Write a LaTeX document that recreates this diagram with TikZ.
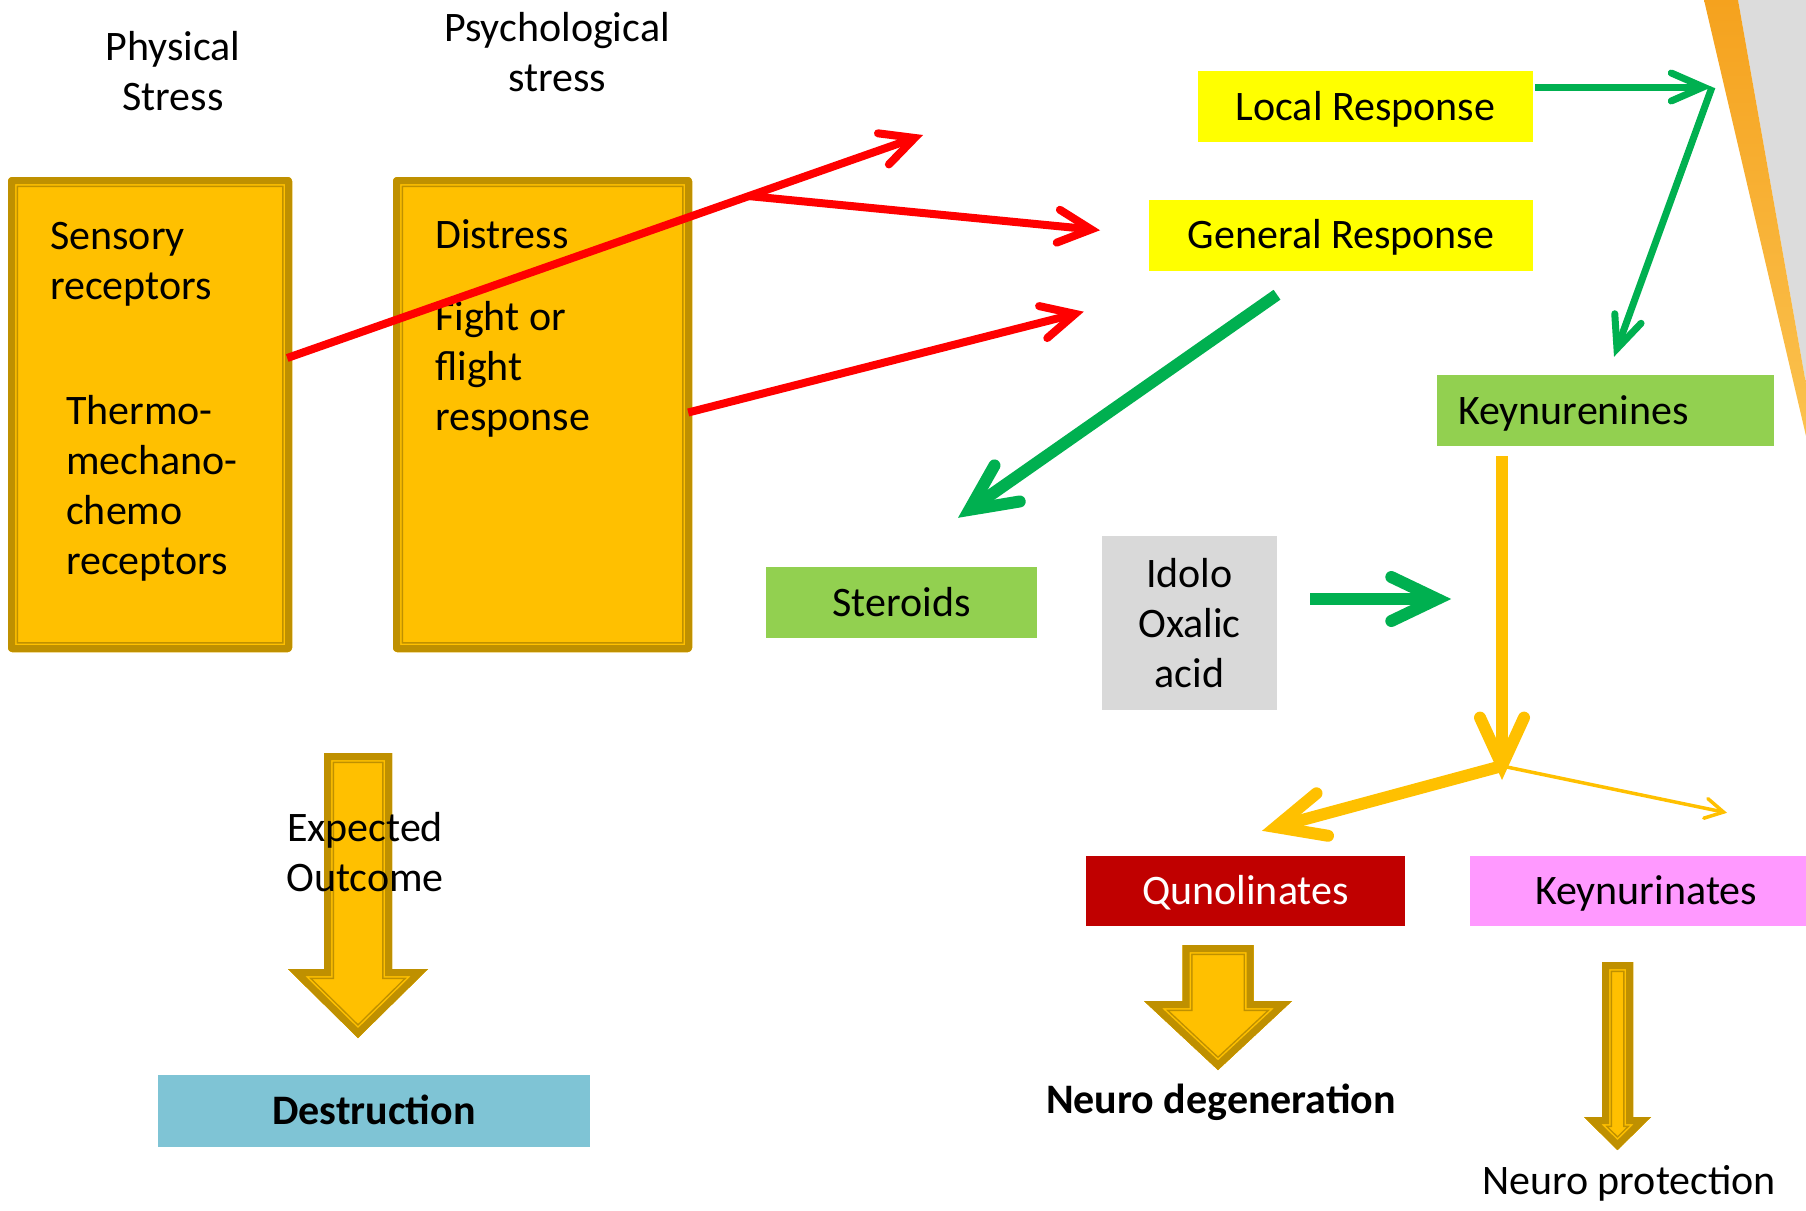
\documentclass[tikz,border=0pt]{standalone}
\usepackage{fontspec}
\setmainfont{Carlito}
\usetikzlibrary{arrows.meta}

\definecolor{goldfill}{HTML}{FFC000}
\definecolor{golddark}{HTML}{BF9000}
\definecolor{stressred}{HTML}{FF0000}
\definecolor{respgreen}{HTML}{00B050}
\definecolor{respyellow}{HTML}{FFFF00}
\definecolor{leafgreen}{HTML}{92D050}
\definecolor{acidgray}{HTML}{D9D9D9}
\definecolor{darkred}{HTML}{C00000}
\definecolor{pinkbox}{HTML}{FF99FF}
\definecolor{tealbox}{HTML}{7FC4D5}
\definecolor{stripetop}{HTML}{F5A21E}
\definecolor{stripebot}{HTML}{FBC24F}
\definecolor{cornergray}{HTML}{DCDCDC}

\tikzset{
  every node/.style={font=\fontsize{42}{50}\selectfont, inner sep=0pt},
  flatbox/.style={rectangle, minimum height=71, text height=34pt, text depth=7pt},
  goldbox/.style={rectangle, rounded corners=4pt, fill=goldfill,
    path picture={
      \foreach \bandw/\bandc in {20/golddark,17/goldfill,14/golddark}
        \draw[\bandc, line width=\bandw pt] (path picture bounding box.south west) rectangle (path picture bounding box.north east);}},
  redline/.style={draw=stressred, line width=8pt, -{Straight Barb[length=33pt, width=33pt, line cap=round, line join=miter]}},
  grnmid/.style={draw=respgreen, line width=7pt, -{Straight Barb[length=32pt, width=28pt, line cap=round, line join=miter]}},
  grnthick/.style={draw=respgreen, line width=12pt, -{Straight Barb[length=46pt, width=44pt, line cap=round, line join=miter]}},
  ylwthick/.style={draw=goldfill, line width=12pt, -{Straight Barb[length=48pt, width=44pt, line cap=round, line join=miter]}},
  ylwthin/.style={draw=goldfill, line width=3.5pt, -{Straight Barb[length=18pt, width=20pt, line cap=round, line join=miter]}}
}

% block arrow: centre x, top y, half shaft, head y, half head, tip y
\newcommand{\goldarrow}[6]{%
  \def\blockpath{(#1-#3,#2) -- (#1+#3,#2) -- (#1+#3,#4) -- (#1+#5,#4) -- (#1,#6) -- (#1-#5,#4) -- (#1-#3,#4) -- cycle}%
  \begin{scope}
    \clip \blockpath;
    \fill[goldfill] \blockpath;
    \foreach \bandw/\bandc in {20/golddark,17/goldfill,14/golddark}
      \draw[\bandc, line width=\bandw pt, line join=miter] \blockpath;
  \end{scope}}

\begin{document}
\begin{tikzpicture}[x=1pt, y=-1pt]
\useasboundingbox (0,0) rectangle (1806,1210);

% corner decoration
\fill[cornergray] (1738,0) -- (1806,0) -- (1806,384) -- cycle;
\shade[top color=stripetop, bottom color=stripebot] (1704,0) -- (1738,0) -- (1806,384) -- (1806,436) -- cycle;

% stress sources (base = last line)
\node[align=center, anchor=base] (phys) at (173,110) {Physical\\Stress};
\node[align=center, anchor=base] (psych) at (557,91) {Psychological\\stress};

\node[goldbox, minimum width=284, minimum height=475] (physbox) at (150,414.5) {};
\node[goldbox, minimum width=299, minimum height=475] (psybox) at (542.5,414.5) {};
\node[align=left, anchor=base west] (sensory) at (50,299) {Sensory\\receptors};
\node[align=left, anchor=base west] (thermo) at (66,574) {Thermo-\\mechano-\\chemo\\receptors};
\node[anchor=base west] (distress) at (435,248) {Distress};
\node[align=left, anchor=base west] (fight) at (435,430) {Fight or\\flight\\response};

% responses
\node[flatbox, fill=respyellow, minimum width=335] (locresp) at (1365.5,106.5) {Local Response};
\node[flatbox, fill=respyellow, minimum width=384] (genresp) at (1341,235) {General Response};
\node[flatbox, fill=leafgreen, text width=295, inner xsep=21pt, align=left] (keyn) at (1605.5,410.5) {Keynurenines};
\node[flatbox, fill=leafgreen, minimum width=271] (steroids) at (901.5,602.5) {Steroids};
\node[fill=acidgray, minimum width=175, minimum height=174, align=center] (idolo) at (1189.5,623) {Idolo\\Oxalic\\acid};
\node[flatbox, fill=darkred, text=white, minimum width=319, minimum height=70] (qunol) at (1245.5,891) {Qunolinates};
\node[flatbox, fill=pinkbox, minimum width=352, minimum height=70] (keynur) at (1646,891) {Keynurinates};
\node[flatbox, fill=tealbox, minimum width=432, minimum height=72, font=\fontsize{42}{50}\selectfont\bfseries] (destr) at (374,1111) {Destruction};

% outcomes
\goldarrow{358}{753}{34}{969}{70}{1038}
\node[align=center, anchor=base] (outcome) at (365,891) {Expected\\Outcome};
\goldarrow{1218}{945}{35.5}{1001}{74}{1070}
\node[anchor=base, font=\fontsize{42}{50}\selectfont\bfseries] (degen) at (1221,1113) {Neuro degeneration};
\goldarrow{1617.5}{962}{15.5}{1117}{33.5}{1150}
\node[anchor=base] (protect) at (1629,1194) {Neuro protection};

\coordinate (upper) at (923,135);
\coordinate (fork) at (748,196);
\coordinate (corner) at (1712,87);
\coordinate (split) at (1502,780);

% red arrows
\draw[redline] ([shift={(-5,-56.5)}]physbox.east) -- (upper);
\draw[redline, shorten >=49pt] (fork) -- (genresp.west);
\draw[redline] ([shift={(-4,-2)}]psybox.east) -- ([shift={(-65,41)}]genresp.south west);

% green arrows
\draw[grnmid] ([shift={(2,-19.5)}]locresp.east) -- (corner);
\draw[grnmid] (corner) -- ([shift={(8.5,-18)}]keyn.north);
\draw[grnthick] ([shift={(-64,24)}]genresp.south) -- ([shift={(56.5,-49)}]steroids.north);
\draw[grnthick] ([shift={(33,-24)}]idolo.east) -- ([shift={(174,-24)}]idolo.east);

% yellow arrows
\draw[ylwthick] ([shift={(-103.5,10)}]keyn.south) -- (split);
\draw[ylwthick] ([shift={(0,-14)}]split) -- ([shift={(16.5,-25)}]qunol.north);
\draw[ylwthin] ([shift={(0,-14)}]split) -- ([shift={(81,-43)}]keynur.north);
\end{tikzpicture}
\end{document}
